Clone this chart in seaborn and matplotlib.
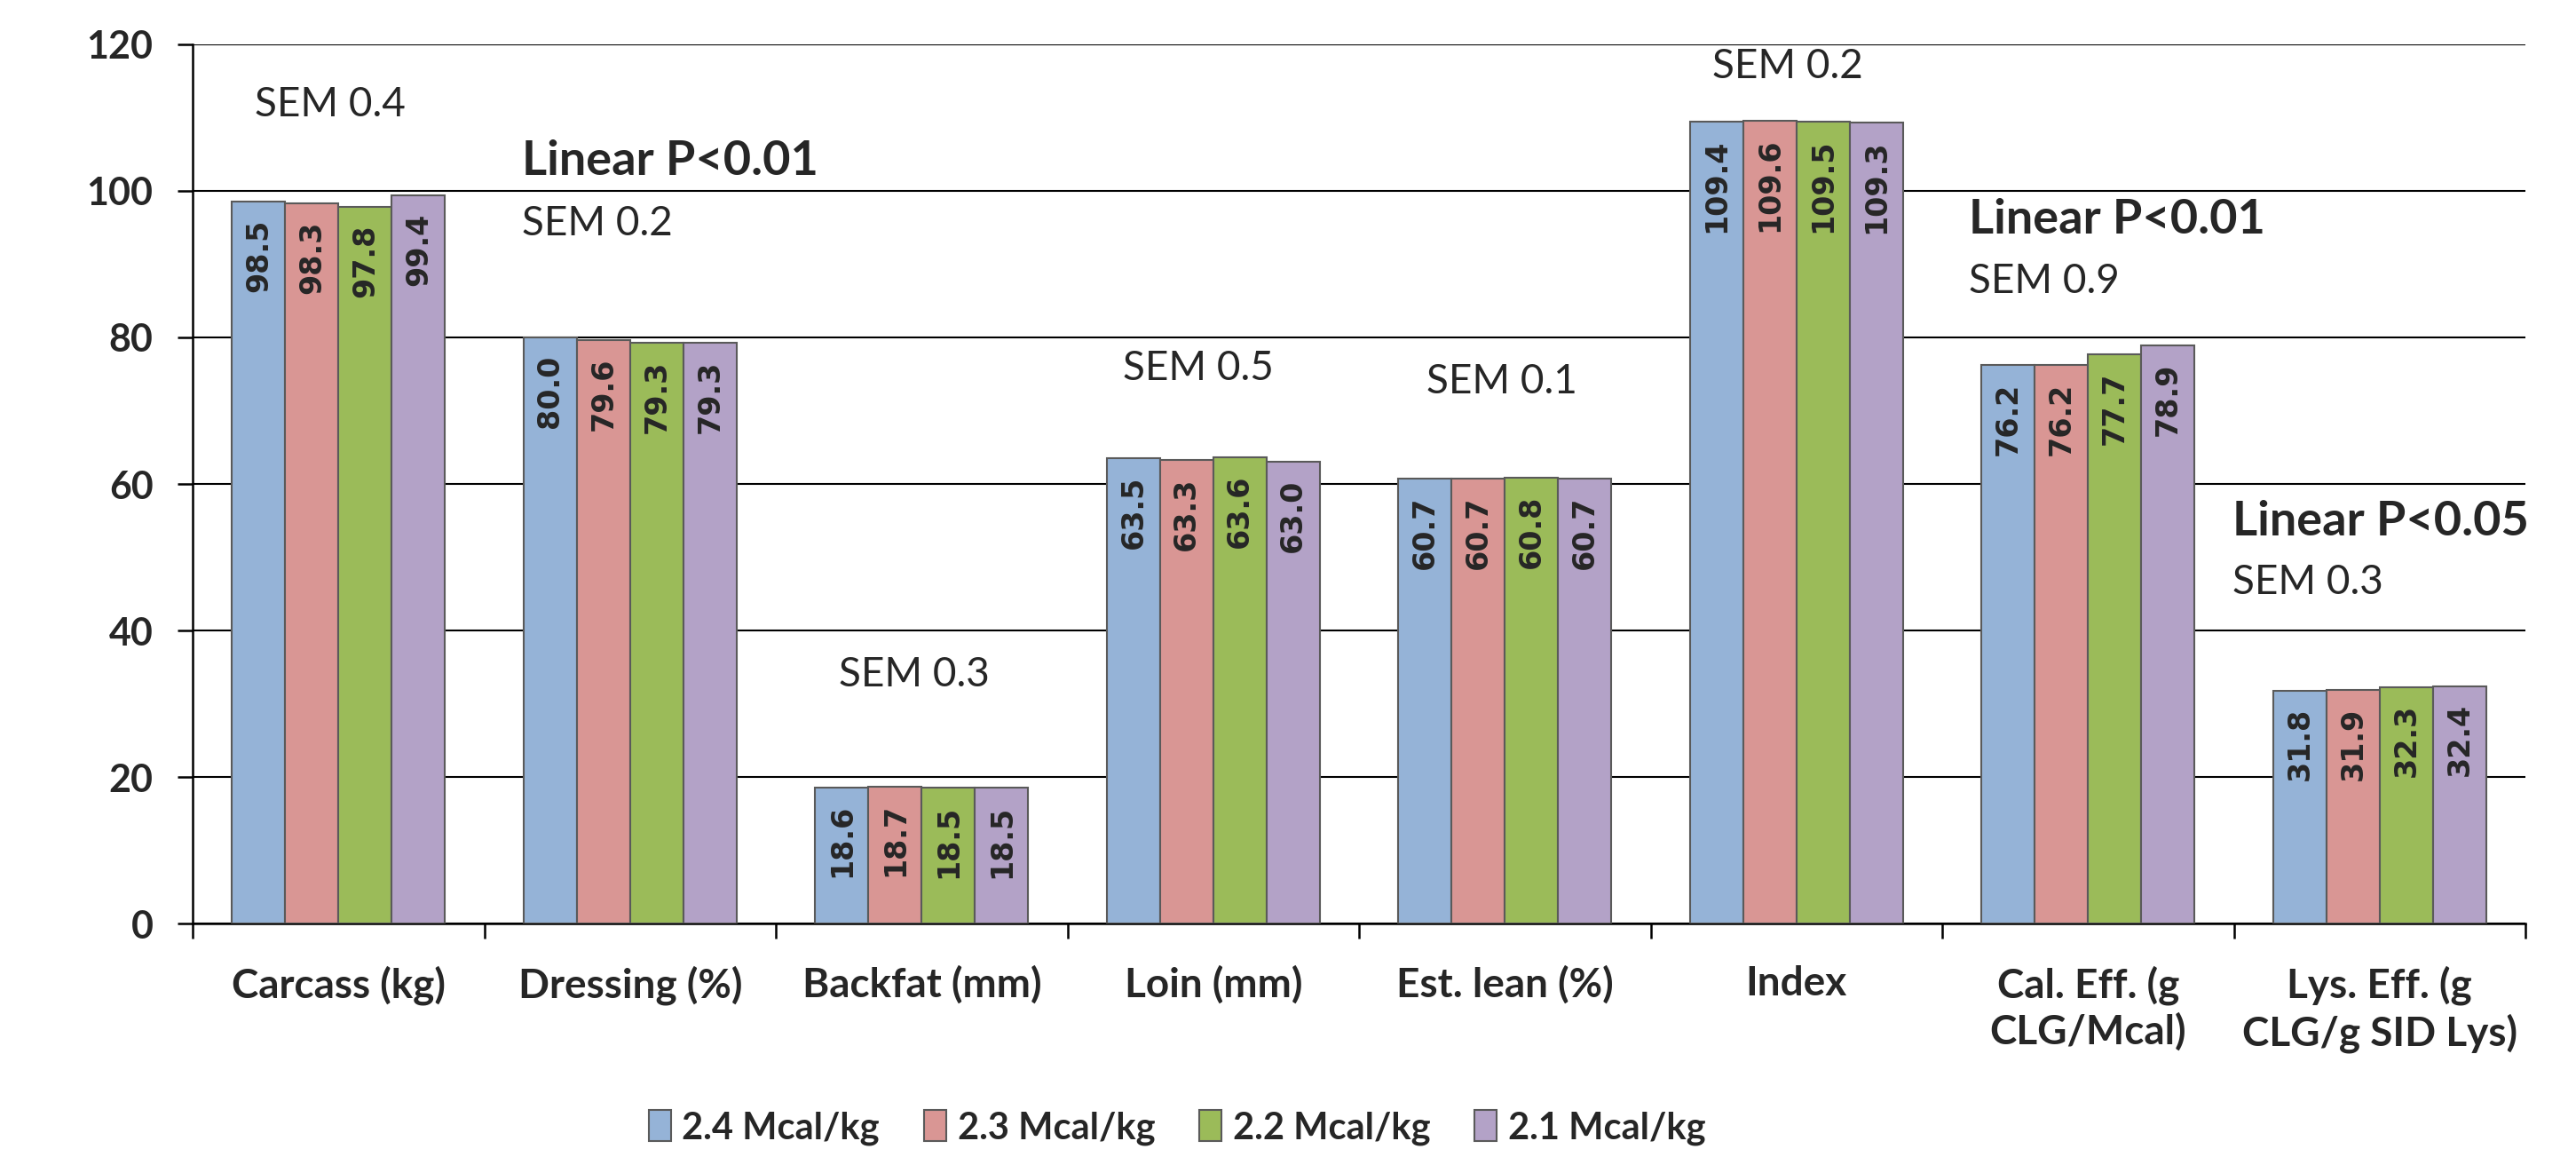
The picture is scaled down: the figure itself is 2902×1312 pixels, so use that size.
import numpy as np
import pandas as pd
from matplotlib import pyplot as plt
import seaborn as sns

measures = ['Carcass (kg)', 'Dressing (%)', 'Backfat (mm)', 'Loin (mm)',
            'Est. lean (%)', 'Index', 'Cal. Eff. (g\nCLG/Mcal)',
            'Lys. Eff. (g\nCLG/g SID Lys)']
diets = ['2.4 Mcal/kg', '2.3 Mcal/kg', '2.2 Mcal/kg', '2.1 Mcal/kg']
mcal_24 = [98.5, 80.0, 18.6, 63.5, 60.7, 109.4, 76.2, 31.8]
mcal_23 = [98.3, 79.6, 18.7, 63.3, 60.7, 109.6, 76.2, 31.9]
mcal_22 = [97.8, 79.3, 18.5, 63.6, 60.8, 109.5, 77.7, 32.3]
mcal_21 = [99.4, 79.3, 18.5, 63.0, 60.7, 109.3, 78.9, 32.4]
sem_text = ['SEM 0.4', 'SEM 0.2', 'SEM 0.3', 'SEM 0.5',
            'SEM 0.1', 'SEM 0.2', 'SEM 0.9', 'SEM 0.3']
linear_text = ['Linear P<0.01', 'Linear P<0.01', 'Linear P<0.05']

# annotation placement (data coords)
sem_pos = [(-0.287, 111.8), (0.628, 95.5), (1.716, 34.0), (2.69, 75.8),
           (3.73, 74.0), (4.71, 117.0), (5.591, 87.6), (6.494, 46.5)]
linear_pos = [(0.628, 104.0), (5.591, 96.1), (6.494, 54.9)]

colors = ['#95B3D7', '#D99694', '#9BBB59', '#B3A2C7']

df = pd.DataFrame({
    'measure': measures * 4,
    'value': mcal_24 + mcal_23 + mcal_22 + mcal_21,
    'diet': np.repeat(diets, len(measures)),
})

sns.set_style('ticks')
plt.rcParams['font.family'] = ['Lato', 'DejaVu Sans']

fig = plt.figure(figsize=(29.02, 13.12), dpi=100)
ax = fig.add_axes([0.0748, 0.2073, 0.9056, 0.7546])

sns.barplot(data=df, x='measure', y='value', hue='diet', palette=colors,
            saturation=1, width=0.73, gap=0, edgecolor='#5a5a5a',
            linewidth=1.5, ax=ax, zorder=3)

for cont in ax.containers:
    for bar in cont:
        h = bar.get_height()
        ax.annotate(f'{h:.1f}', (bar.get_x() + bar.get_width() / 2, h),
                    xytext=(0, -14), textcoords='offset points',
                    rotation=90, ha='center', va='top', fontsize=24,
                    fontweight='bold', family='DejaVu Sans', zorder=5)

for txt, (x, y) in zip(sem_text, sem_pos):
    ax.text(x, y, txt, fontsize=33, ha='left', va='center')
for txt, (x, y) in zip(linear_text, linear_pos):
    ax.text(x, y, txt, fontsize=39, fontweight='bold', ha='left', va='center')

ax.set_xlim(-0.5, 7.5)
ax.set_ylim(0, 120)
ax.set_yticks(np.arange(0, 121, 20))
ax.yaxis.grid(True, color='black', lw=1.5)
ax.set_axisbelow(True)
sns.despine(ax=ax)
for s in ['left', 'bottom']:
    ax.spines[s].set_linewidth(1.8)
    ax.spines[s].set_color('black')

ax.set_xticks(np.arange(-0.5, 8, 1), minor=True)
ax.tick_params(axis='x', which='major', length=0, pad=34, labelsize=33)
ax.tick_params(axis='x', which='minor', length=12, width=1.8, color='black')
ax.tick_params(axis='y', length=12, width=1.8, color='black', pad=20, labelsize=31)
for lab in ax.get_xticklabels():
    lab.set_fontweight('bold')
    lab.set_linespacing(1.25)
for lab in ax.get_yticklabels():
    lab.set_fontweight('bold')
ax.set_xlabel('')
ax.set_ylabel('')

sns.move_legend(ax, 'center', bbox_to_anchor=(0.457, 0.032),
                bbox_transform=fig.transFigure, ncol=4, frameon=False,
                title=None, handlelength=0.6, handleheight=0.9,
                handletextpad=0.3, columnspacing=1.2,
                prop={'weight': 'bold', 'size': 30})

plt.savefig('out.png', dpi=100)
